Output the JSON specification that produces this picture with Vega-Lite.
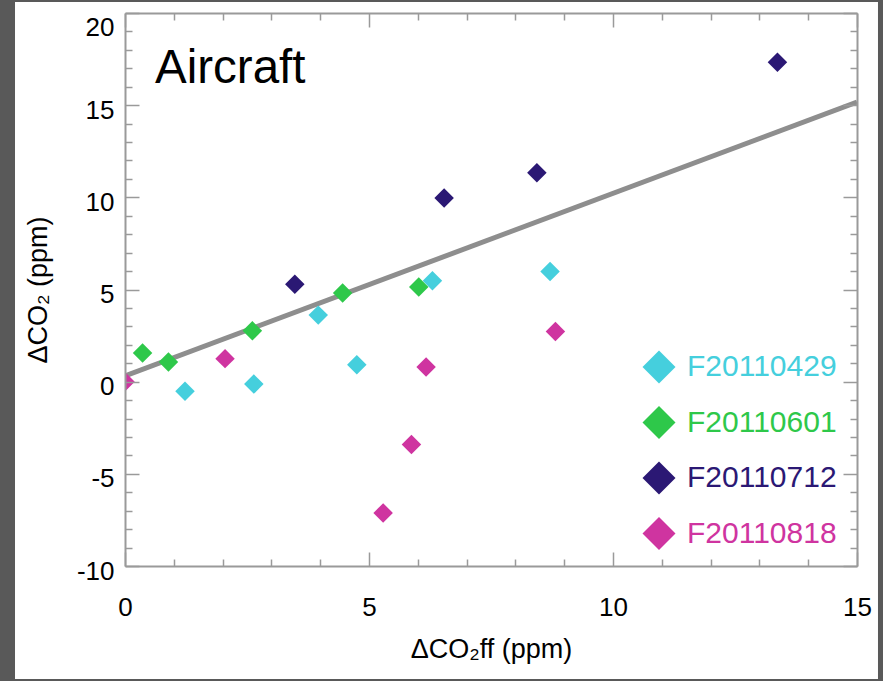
{
  "$schema": "https://vega.github.io/schema/vega-lite/v6.json",
  "width": 732,
  "height": 553,
  "autosize": "none",
  "padding": {"left": 125, "top": 13, "right": 26, "bottom": 115},
  "background": "#595959",
  "datasets": {
    "points": [
      {"flight": "F20110429", "ff": 1.23, "co2": -0.52},
      {"flight": "F20110429", "ff": 2.64, "co2": -0.13},
      {"flight": "F20110429", "ff": 3.96, "co2": 3.61},
      {"flight": "F20110429", "ff": 4.75, "co2": 0.92},
      {"flight": "F20110429", "ff": 6.30, "co2": 5.47},
      {"flight": "F20110429", "ff": 8.71, "co2": 5.98},
      {"flight": "F20110601", "ff": 0.36, "co2": 1.55},
      {"flight": "F20110601", "ff": 0.89, "co2": 1.07},
      {"flight": "F20110601", "ff": 2.61, "co2": 2.76},
      {"flight": "F20110601", "ff": 4.46, "co2": 4.81},
      {"flight": "F20110601", "ff": 6.02, "co2": 5.13},
      {"flight": "F20110712", "ff": 3.48, "co2": 5.29},
      {"flight": "F20110712", "ff": 6.54, "co2": 9.96},
      {"flight": "F20110712", "ff": 8.44, "co2": 11.34},
      {"flight": "F20110712", "ff": 13.37, "co2": 17.33},
      {"flight": "F20110818", "ff": 0.0, "co2": 0.0},
      {"flight": "F20110818", "ff": 2.05, "co2": 1.25},
      {"flight": "F20110818", "ff": 6.17, "co2": 0.80},
      {"flight": "F20110818", "ff": 5.87, "co2": -3.41},
      {"flight": "F20110818", "ff": 5.29, "co2": -7.12},
      {"flight": "F20110818", "ff": 8.82, "co2": 2.72}
    ],
    "fit": [
      {"ff": 0, "co2": 0.31},
      {"ff": 15, "co2": 15.17}
    ],
    "one": [{}]
  },
  "layer": [
    {
      "data": {"name": "one"},
      "mark": {"type": "rect", "fill": "white", "clip": false},
      "encoding": {
        "x": {"datum": -2.254, "type": "quantitative", "scale": {"domain": [0, 15], "nice": false, "zero": false}, "axis": null},
        "x2": {"datum": 15.43},
        "y": {"datum": 20.6, "type": "quantitative", "scale": {"domain": [-10, 20], "nice": false, "zero": false}, "axis": null},
        "y2": {"datum": -16.13}
      }
    },
    {
      "data": {"name": "fit"},
      "mark": {"type": "line", "color": "#8e8e8e", "strokeWidth": 5, "clip": true},
      "encoding": {
        "x": {"field": "ff", "type": "quantitative", "scale": {"domain": [0, 15], "nice": false, "zero": false}, "axis": null},
        "y": {"field": "co2", "type": "quantitative", "scale": {"domain": [-10, 20], "nice": false, "zero": false}, "axis": null}
      }
    },
    {
      "data": {"name": "points"},
      "mark": {"type": "point", "shape": "diamond", "filled": true, "size": 380, "opacity": 1, "strokeWidth": 0, "clip": true},
      "encoding": {
        "x": {
          "field": "ff", "type": "quantitative",
          "scale": {"domain": [0, 15], "nice": false, "zero": false},
          "axis": {
            "orient": "bottom",
            "values": [0, 1, 2, 3, 4, 5, 6, 7, 8, 9, 10, 11, 12, 13, 14, 15],
            "labelExpr": "datum.value % 5 === 0 ? '' + datum.value : ''",
            "tickSize": {"condition": {"test": "datum.value % 5 === 0", "value": -14}, "value": -7},
            "tickColor": "#9a9a9a", "tickWidth": 1.5,
            "domainColor": "#9a9a9a", "domainWidth": 2,
            "labelFontSize": 26, "labelFont": "Liberation Sans", "labelColor": "black",
            "labelPadding": 42, "labelFlush": false, "labelOverlap": false, "labelBound": false,
            "grid": false,
            "title": "ΔCO₂ff (ppm)", "titleFontSize": 27, "titleFont": "Liberation Sans",
            "titleFontWeight": "normal", "titleColor": "black",
            "titleY": 91, "titleBaseline": "alphabetic",
            "zindex": 1
          }
        },
        "y": {
          "field": "co2", "type": "quantitative",
          "scale": {"domain": [-10, 20], "nice": false, "zero": false},
          "axis": {
            "orient": "left",
            "values": [-10, -9, -8, -7, -6, -5, -4, -3, -2, -1, 0, 1, 2, 3, 4, 5, 6, 7, 8, 9, 10, 11, 12, 13, 14, 15, 16, 17, 18, 19, 20],
            "labelExpr": "datum.value % 5 === 0 ? '' + datum.value : ''",
            "tickSize": {"condition": {"test": "datum.value % 5 === 0", "value": -14}, "value": -7},
            "tickColor": "#9a9a9a", "tickWidth": 1.5,
            "domainColor": "#9a9a9a", "domainWidth": 2,
            "labelFontSize": 26, "labelFont": "Liberation Sans", "labelColor": "black",
            "labelPadding": 25, "labelFlush": false, "labelOverlap": false, "labelBound": false,
            "labelOffset": {"condition": {"test": "datum.value === 20", "value": 14}, "value": 5},
            "grid": false,
            "title": "ΔCO₂ (ppm)", "titleFontSize": 27, "titleFont": "Liberation Sans",
            "titleFontWeight": "normal", "titleColor": "black",
            "titleX": -87, "titleBaseline": "middle", "titleAngle": -90,
            "zindex": 1
          }
        },
        "color": {
          "field": "flight", "type": "nominal",
          "scale": {
            "domain": ["F20110429", "F20110601", "F20110712", "F20110818"],
            "range": ["#45cfdd", "#2ec84a", "#2b1874", "#cf34a0"]
          },
          "legend": {
            "title": null,
            "orient": "none",
            "legendX": 517,
            "legendY": 337,
            "padding": 0,
            "symbolType": "diamond",
            "symbolSize": 1090,
            "symbolStrokeWidth": 0,
            "symbolOpacity": 1,
            "labelFontSize": 30,
            "labelFont": "Liberation Sans",
            "labelOffset": 11,
            "labelLimit": 300,
            "rowPadding": 21.5,
            "encode": {"labels": {"update": {"fill": {"scale": "color", "field": "value"}}}}
          }
        }
      }
    },
    {
      "data": {"name": "one"},
      "mark": {"type": "text", "text": "Aircraft", "align": "left", "baseline": "alphabetic", "fontSize": 47.5, "font": "Liberation Sans", "color": "black"},
      "encoding": {
        "x": {
          "datum": 0.615, "type": "quantitative",
          "scale": {"domain": [0, 15], "nice": false, "zero": false},
          "axis": {
            "orient": "top",
            "values": [0, 1, 2, 3, 4, 5, 6, 7, 8, 9, 10, 11, 12, 13, 14, 15],
            "labels": false,
            "tickSize": {"condition": {"test": "datum.value % 5 === 0", "value": -14}, "value": -7},
            "tickColor": "#9a9a9a", "tickWidth": 1.5,
            "domainColor": "#9a9a9a", "domainWidth": 2,
            "grid": false, "title": null, "zindex": 1
          }
        },
        "y": {
          "datum": 16.2, "type": "quantitative",
          "scale": {"domain": [-10, 20], "nice": false, "zero": false},
          "axis": {
            "orient": "right",
            "values": [-10, -9, -8, -7, -6, -5, -4, -3, -2, -1, 0, 1, 2, 3, 4, 5, 6, 7, 8, 9, 10, 11, 12, 13, 14, 15, 16, 17, 18, 19, 20],
            "labels": false,
            "tickSize": {"condition": {"test": "datum.value % 5 === 0", "value": -14}, "value": -7},
            "tickColor": "#9a9a9a", "tickWidth": 1.5,
            "domainColor": "#9a9a9a", "domainWidth": 2,
            "grid": false, "title": null, "zindex": 1
          }
        }
      }
    }
  ],
  "resolve": {"axis": {"x": "independent", "y": "independent"}},
  "config": {"view": {"stroke": null}}
}
